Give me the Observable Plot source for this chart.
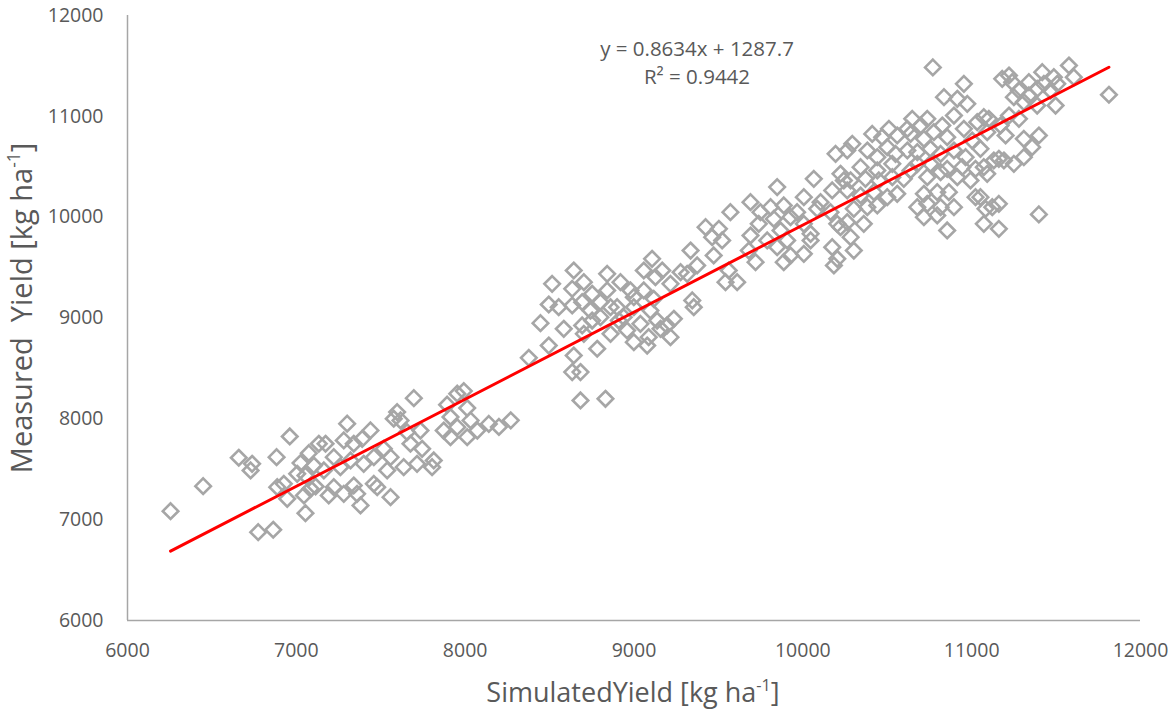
<!DOCTYPE html>
<html><head><meta charset="utf-8">
<script src="https://cdn.jsdelivr.net/npm/d3@7"></script>
<script src="https://cdn.jsdelivr.net/npm/@observablehq/plot@0.6"></script>
<style>body{margin:0;background:#fff}#chart{width:1168px;height:711px}</style>
</head><body><div id="chart"></div>
<script>
// Simulated yield (x) and measured yield (y), kg ha-1
const simulated = [
6255,6448,6659,6738,6729,6883,6961,6774,6863,6887,6926,6946,7025,7074,7005,7054,7104,7045,7054,7114,7133,
7696,7992,7953,7301,7439,7597,7577,7617,7173,7281,7340,7390,7222,7163,7261,7321,7399,7459,7518,7558,7656,7676,7735,7745,7715,7636,7814,7804,7538,7459,7340,7222,7084,7192,7281,7360,7479,7558,7380,7893,7913,8012,7873,7953,8032,8012,7913,8072,8140,8200,8270,
9335,8683,8831,8377,8495,8446,8584,8634,8683,8643,8495,8515,8554,8643,8634,8703,8634,8693,8693,8782,8752,8801,8752,8841,8841,8920,8861,8801,8900,8910,8979,8959,8999,9038,8999,9058,9058,9107,9127,9117,9097,9087,9078,9157,9137,9236,9216,9196,9167,9276,9216,9345,9354,9315,9374,8939,8742,8703,8861,8999,
9424,9503,9463,9522,9472,9571,9690,9848,9561,9611,9542,9690,9739,9809,9680,9720,9828,9789,9848,9887,9927,9868,9907,9927,9887,10006,10065,9966,10006,10046,10006,10046,10105,10174,10164,10204,10243,10174,10204,10184,10194,10263,10085,9749,
10954,10836,10915,10974,10648,10737,10895,11072,11033,10411,10510,10619,10698,10826,10776,10954,11092,10470,10559,10638,10717,10855,11003,10293,10382,10500,10441,10549,10619,10678,10756,10816,10895,10964,11052,11131,10342,10441,10530,10678,10756,10855,10944,11023,10223,10283,10371,10450,10530,10598,10638,10737,10816,10915,10993,11092,10263,10342,10421,10500,10559,10717,10796,10865,11023,11122,10737,10678,10816,10895,10302,10382,10441,10263,10361,10717,10796,10855,11072,10283,10302,10223,10770,
11813,11576,11605,11418,11487,11221,11181,11240,11339,11428,11507,11280,11388,11467,11250,11339,11309,11497,11388,11221,11280,11102,11171,11201,11309,11398,11358,11309,11191,11250,11161,11072,11052,11161,11082,11161,11398
];
const measured = [
7084,7332,7614,7554,7488,7620,7825,6876,6900,7322,7355,7207,7561,7659,7455,7438,7537,7240,7064,7329,7753,
8205,8275,8249,7952,7885,8067,8001,7984,7753,7786,7753,7802,7620,7488,7521,7587,7554,7620,7703,7620,7868,7753,7884,7703,7554,7521,7587,7521,7488,7355,7339,7322,7306,7240,7256,7256,7322,7223,7141,8140,8018,8107,7884,7917,7984,7818,7818,7884,7950,7920,7985,
9669,8182,8199,8605,8727,8949,8893,8464,8464,8628,9134,9339,9107,9471,9289,9355,9124,9157,8926,8695,8975,9157,9240,9438,9273,9355,9107,9008,9107,8975,9273,8876,8760,8942,9107,9273,9471,9587,9405,9190,9074,8810,8727,8893,8975,8992,8810,8926,9471,9454,9339,9174,9107,9438,9521,9008,9074,8843,8843,9207,
9901,9884,9802,9769,9620,10050,10149,10298,9471,9355,9355,9818,9934,10099,9669,9554,9983,9769,9702,10116,10000,9868,9769,9620,9554,10198,10380,10050,9934,9835,9636,9769,10149,10265,10050,9934,10364,9702,9587,9521,10628,10661,10083,10050,
11322,11190,11174,11124,10975,10975,11008,10992,10942,10826,10876,10876,10909,10909,10843,10876,10843,10793,10810,10827,10777,10793,10760,10727,10661,10694,10595,10628,10661,10645,10678,10628,10661,10595,10678,10562,10496,10463,10529,10529,10529,10479,10496,10479,10430,10364,10380,10364,10397,10380,10463,10397,10446,10397,10364,10430,10265,10215,10248,10198,10232,10232,10248,10248,10198,10099,10132,10099,10099,10099,10083,10099,10116,9950,9934,10000,10017,9868,9934,9802,9669,9901,11485,
11214,11504,11388,11438,11388,11405,11372,11339,11339,11322,11322,11256,11273,11256,11190,11207,11141,11107,11107,11008,10975,10975,10909,10810,10777,10810,10694,10595,10562,10529,10579,10496,10198,10132,10083,9884,10027
];
const xTicks = [6000, 7000, 8000, 9000, 10000, 11000, 12000];
const yTicks = [6000, 7000, 8000, 9000, 10000, 11000, 12000];
const slope = 0.8634, intercept = 1287.7, rSquared = 0.9442;

const points = simulated.map((x, i) => ({x, y: measured[i]}));
const fit = d3.extent(simulated).map(x => ({x, y: slope * x + intercept}));
const gray = "#595959";
const font = "'Open Sans', sans-serif";

const chart = Plot.plot({
  width: 1168, height: 711,
  marginLeft: 127, marginRight: 28, marginTop: 15, marginBottom: 91,
  x: {domain: [6000, 12000]},
  y: {domain: [6000, 12000]},
  style: {fontFamily: font, fontSize: "19.5px", color: gray, background: "#fff"},
  marks: [
    Plot.ruleX([6000], {stroke: "#a6a6a6", strokeWidth: 1.5}),
    Plot.ruleY([6000], {stroke: "#a6a6a6", strokeWidth: 1.5}),
    Plot.axisX({ticks: xTicks, tickSize: 0, tickPadding: 23, tickFormat: d3.format("d"), label: null, fill: gray}),
    Plot.axisY({ticks: yTicks, tickSize: 0, tickPadding: 24, tickFormat: d3.format("d"), label: null, fill: gray}),
    Plot.dot(points, {x: "x", y: "y", symbol: "diamond2", r: 7, stroke: "#a6a6a6", strokeWidth: 2.6, fill: "none"}),
    Plot.line(fit, {x: "x", y: "y", stroke: "#ff0000", strokeWidth: 3}),
    Plot.text([`y = ${slope}x + ${intercept}`], {
      frameAnchor: "top", dx: 63, dy: 40, textAnchor: "middle", lineAnchor: "bottom", fill: gray, fontSize: 20.5
    }),
    Plot.text([`R² = ${rSquared}`], {
      frameAnchor: "top", dx: 63, dy: 68, textAnchor: "middle", lineAnchor: "bottom", fill: gray, fontSize: 20.5
    })
  ]
});
document.getElementById("chart").appendChild(chart);

const svg = d3.select(chart);
function title(main, x, y, rot, size) {
  const t = svg.append("text")
    .attr("transform", `translate(${x},${y})${rot ? " rotate(-90)" : ""}`)
    .attr("text-anchor", "middle")
    .attr("fill", gray).attr("font-size", size)
    .style("white-space", "pre").attr("font-family", font);
  t.append("tspan").text(main);
  t.append("tspan").attr("font-size", size * 0.6).attr("dy", -size * 0.4).text("-1");
  t.append("tspan").attr("dy", size * 0.4).text("]");
}
title("SimulatedYield [kg ha", 633, 702, false, 27);
title("Measured  Yield [kg ha", 32, 308, true, 29);
</script></body></html>
